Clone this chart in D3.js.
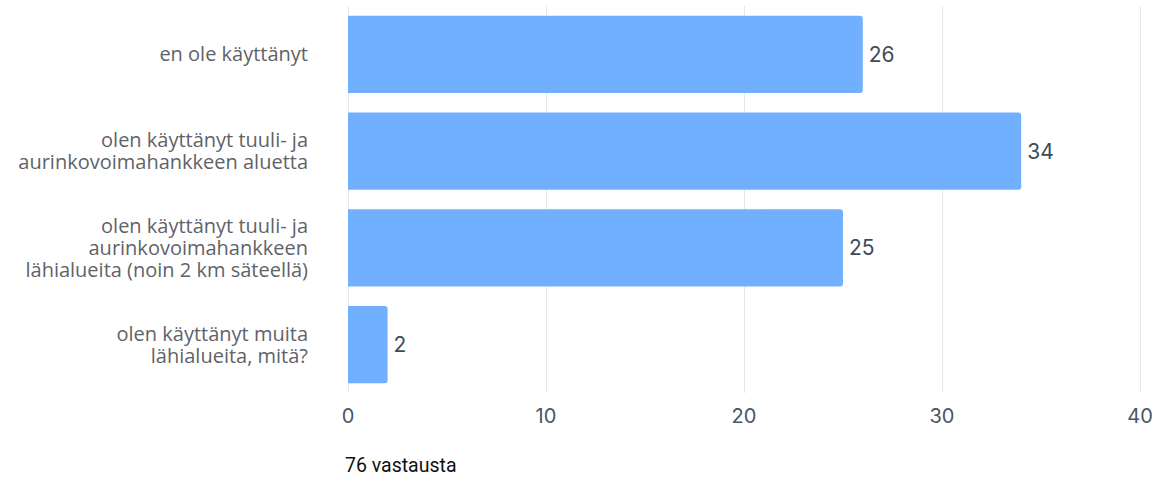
<!DOCTYPE html>
<html><head><meta charset="utf-8">
<script src="https://cdn.jsdelivr.net/npm/d3@7"></script>
<style>body{margin:0;background:#fff;} svg{display:block;}</style>
</head><body>
<svg id="chart" width="1176" height="478"></svg>
<script>
const categories = [
  ["en ole käyttänyt"],
  ["olen käyttänyt tuuli- ja", "aurinkovoimahankkeen aluetta"],
  ["olen käyttänyt tuuli- ja", "aurinkovoimahankkeen", "lähialueita (noin 2 km säteellä)"],
  ["olen käyttänyt muita", "lähialueita, mitä?"]
];
const values = [26, 34, 25, 2];
const tickValues = [0, 10, 20, 30, 40];
const footer = "76 vastausta";

const svg = d3.select("#chart");
const x = d3.scaleLinear().domain([0, 40]).range([348, 1140]);
const y = d3.scaleBand().domain(d3.range(values.length)).range([6, 393]).paddingInner(0.2).paddingOuter(0.1);

// gridlines
svg.append("g").selectAll("line").data(tickValues).join("line")
  .attr("x1", d => x(d) + 0.5).attr("x2", d => x(d) + 0.5)
  .attr("y1", 6).attr("y2", 393)
  .attr("stroke", "#e6e9ec").attr("stroke-width", 1);

// bars (rounded right corners)
const r = 3;
svg.append("g").selectAll("path").data(values).join("path")
  .attr("d", (d, i) => {
    const x0 = x(0), x1 = x(d), y0 = y(i), h = y.bandwidth();
    return `M${x0},${y0}H${x1 - r}Q${x1},${y0} ${x1},${y0 + r}V${y0 + h - r}Q${x1},${y0 + h} ${x1 - r},${y0 + h}H${x0}Z`;
  })
  .attr("fill", "#70b0ff");

// value labels
svg.append("g").selectAll("text").data(values).join("text")
  .attr("x", d => x(d) + 6)
  .attr("y", (d, i) => y(i) + y.bandwidth() / 2)
  .attr("dy", "0.36em")
  .attr("font-family", "Inter, Roboto, sans-serif")
  .attr("font-size", 21)
  .attr("fill", "#3f4a5a")
  .text(d => d);

// category labels
const lh = 22;
const cat = svg.append("g").selectAll("text").data(categories).join("text")
  .attr("text-anchor", "end")
  .attr("font-family", "'Open Sans', sans-serif")
  .attr("font-size", 20)
  .attr("fill", "#5f6368");
cat.each(function(lines, i) {
  const cy = y(i) + y.bandwidth() / 2;
  const start = cy - (lines.length - 1) * lh / 2;
  d3.select(this).selectAll("tspan").data(lines).join("tspan")
    .attr("x", 308)
    .attr("y", (l, j) => start + j * lh)
    .attr("dy", "0.35em")
    .text(l => l);
});

// x tick labels
svg.append("g").selectAll("text").data(tickValues).join("text")
  .attr("x", d => x(d))
  .attr("y", 416)
  .attr("dy", "0.35em")
  .attr("text-anchor", "middle")
  .attr("font-family", "Inter, Roboto, sans-serif")
  .attr("font-size", 20)
  .attr("fill", "#4a5565")
  .text(d => d);

// footer
svg.append("text")
  .attr("x", 345).attr("y", 472)
  .attr("font-family", "Roboto, sans-serif")
  .attr("font-size", 19.5)
  .attr("fill", "#111")
  .text(footer);
</script>
</body></html>
